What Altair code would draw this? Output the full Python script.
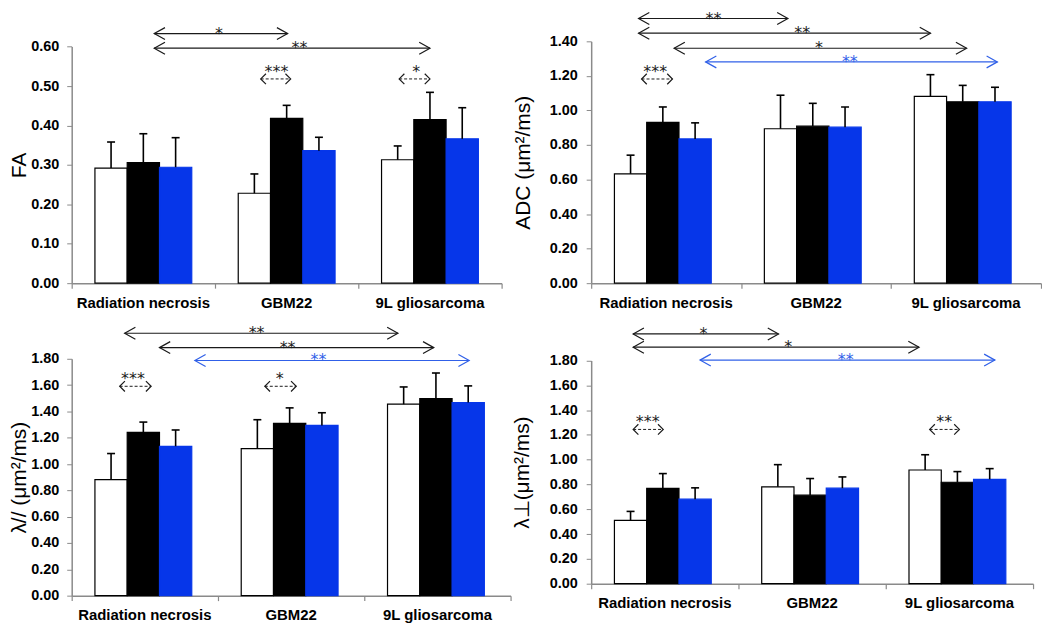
import altair as alt
import pandas as pd

GROUPS = ["Radiation necrosis", "GBM22", "9L gliosarcoma"]
SERIES = ["Series 1", "Series 2", "Series 3"]
BAR_FILLS = ["#ffffff", "#000000", "#0636e9"]
BAR_STROKES = ["#000000", "#000000", "#0636e9"]
GRAY = "#8a8a8a"
ARROW_BLACK = "#1a1a1a"
ARROW_BLUE = "#3060e8"

# values per series (rows) and group (columns)
FA_MEAN = [[0.292, 0.228, 0.313], [0.306, 0.418, 0.415], [0.294, 0.336, 0.366]]
FA_SD = [[0.066, 0.049, 0.035], [0.073, 0.033, 0.069], [0.075, 0.034, 0.079]]

ADC_MEAN = [[0.633, 0.894, 1.081], [0.931, 0.909, 1.050], [0.835, 0.903, 1.050]]
ADC_SD = [[0.108, 0.194, 0.126], [0.089, 0.132, 0.095], [0.093, 0.117, 0.084]]

LPAR_MEAN = [[0.881, 1.118, 1.455], [1.241, 1.309, 1.498], [1.135, 1.294, 1.468]]
LPAR_SD = [[0.199, 0.219, 0.131], [0.078, 0.118, 0.194], [0.124, 0.096, 0.126]]

LPERP_MEAN = [[0.511, 0.781, 0.917], [0.768, 0.714, 0.818], [0.682, 0.770, 0.842]]
LPERP_SD = [[0.072, 0.179, 0.123], [0.120, 0.134, 0.086], [0.091, 0.091, 0.086]]

# significance brackets: (from, to, level, label, label position, colour)
FA_SOLID = [(0.576, 1.507, 0.633, "*", 1.028, ARROW_BLACK),
            (0.576, 2.500, 0.596, "**", 1.589, ARROW_BLACK)]
FA_DASHED = [(1.319, 1.528, 0.518, "***", 1.429, ARROW_BLACK),
             (2.285, 2.500, 0.518, "*", 2.404, ARROW_BLACK)]

ADC_SOLID = [(0.316, 1.312, 1.532, "**", 0.816, ARROW_BLACK),
             (0.316, 2.263, 1.447, "**", 1.407, ARROW_BLACK),
             (0.553, 2.504, 1.360, "*", 1.520, ARROW_BLACK),
             (0.763, 2.709, 1.281, "**", 1.725, ARROW_BLUE)]
ADC_DASHED = [(0.336, 0.542, 1.182, "***", 0.427, ARROW_BLACK)]

LPAR_SOLID = [(0.362, 2.230, 1.994, "**", 1.264, ARROW_BLACK),
              (0.600, 2.475, 1.885, "**", 1.476, ARROW_BLACK),
              (0.842, 2.717, 1.787, "**", 1.687, ARROW_BLUE)]
LPAR_DASHED = [(0.328, 0.543, 1.591, "***", 0.419, ARROW_BLACK),
               (1.320, 1.535, 1.591, "*", 1.422, ARROW_BLACK)]

LPERP_SOLID = [(0.285, 1.272, 2.014, "*", 0.763, ARROW_BLACK),
               (0.285, 2.226, 1.907, "*", 1.338, ARROW_BLACK),
               (0.739, 2.741, 1.803, "**", 1.728, ARROW_BLUE)]
LPERP_DASHED = [(0.285, 0.489, 1.244, "***", 0.384, ARROW_BLACK),
                (2.298, 2.500, 1.244, "**", 2.397, ARROW_BLACK)]

HEAD_L = "M1.8,-1L0,0L1.8,1"
HEAD_R = "M-1.8,-1L0,0L-1.8,1"
DHEAD_L = "M1,-1L0,0L1,1"
DHEAD_R = "M-1,-1L0,0L-1,1"
COLS = ["x1", "x2", "y", "label", "sx", "color"]


def panel(means, sds, ymax, step, title, width, height, top_px,
          solid, dashed, title_pad, label_pad):
    rows = []
    for gi, g in enumerate(GROUPS):
        for si, s in enumerate(SERIES):
            m = means[si][gi]
            rows.append({"group": g, "series": s, "mean": m, "top": m + sds[si][gi]})
    df = pd.DataFrame(rows)

    yscale = alt.Scale(domain=[0, ymax], range=[height, top_px], nice=False, zero=True)
    n = int(round(ymax / step))
    yvals = [round(i * step, 2) for i in range(n + 1)]
    yaxis = alt.Axis(values=yvals, format=".2f", title=title,
                     titleFontSize=21, titleFontWeight="normal",
                     titleFont="Liberation Sans", titleColor="black",
                     titlePadding=title_pad,
                     labelFont="Liberation Sans", labelFontSize=14.5,
                     labelFontWeight="bold", labelColor="black",
                     labelPadding=label_pad, tickSize=5, tickColor=GRAY,
                     domainColor=GRAY, domainWidth=1.5, grid=False)

    xs = alt.X("group:N", sort=GROUPS,
               scale=alt.Scale(domain=GROUPS, paddingInner=0, paddingOuter=0),
               axis=alt.Axis(title=None, ticks=False, labelAngle=0, labelFontSize=15,
                             labelFontWeight="bold", labelFont="Liberation Sans",
                             labelColor="black", labelPadding=12,
                             domainColor=GRAY, domainWidth=1.5, grid=False))
    xo = alt.XOffset("series:N", sort=SERIES,
                     scale=alt.Scale(domain=SERIES, paddingInner=0, paddingOuter=0.72))
    base = alt.Chart(df)
    bars = base.mark_bar(strokeWidth=1.2).encode(
        x=xs, xOffset=xo,
        y=alt.Y("mean:Q", scale=yscale, axis=yaxis),
        fill=alt.Fill("series:N", scale=alt.Scale(domain=SERIES, range=BAR_FILLS), legend=None),
        stroke=alt.Stroke("series:N", scale=alt.Scale(domain=SERIES, range=BAR_STROKES), legend=None),
    )
    err = base.mark_rule(color="black", strokeWidth=1.6).encode(
        x=xs, xOffset=xo, y=alt.Y("mean:Q", scale=yscale, axis=yaxis), y2="top:Q")
    caps = base.mark_tick(color="black", thickness=1.6, size=8, opacity=1).encode(
        x=xs, xOffset=xo, y=alt.Y("top:Q", scale=yscale, axis=yaxis))

    sdf = pd.DataFrame(solid, columns=COLS)
    ddf = pd.DataFrame(dashed, columns=COLS)
    heads = []
    for r in solid:
        heads.append({"hx": r[0], "y": r[2], "shape": HEAD_L, "size": 144, "color": r[5]})
        heads.append({"hx": r[1], "y": r[2], "shape": HEAD_R, "size": 144, "color": r[5]})
    for r in dashed:
        heads.append({"hx": r[0], "y": r[2], "shape": DHEAD_L, "size": 110, "color": r[5]})
        heads.append({"hx": r[1], "y": r[2], "shape": DHEAD_R, "size": 110, "color": r[5]})
    hdf = pd.DataFrame(heads)

    qs = alt.Scale(domain=[0, 3], nice=False, zero=False)
    qaxis = alt.Axis(orient="bottom", values=[0, 1, 2, 3], labels=False, domain=False,
                     ticks=True, tickSize=5, tickColor=GRAY, tickWidth=1.2,
                     title=None, grid=False)
    ys = alt.Y("y:Q", scale=yscale, axis=yaxis)
    col = alt.Color("color:N", scale=None)

    sol = alt.Chart(sdf).mark_rule(strokeWidth=1.2).encode(
        x=alt.X("x1:Q", scale=qs, axis=qaxis), x2="x2:Q", y=ys, color=col)
    das = alt.Chart(ddf).mark_rule(strokeWidth=1, strokeDash=[3, 2]).encode(
        x=alt.X("x1:Q", scale=qs, axis=qaxis), x2="x2:Q", y=ys, color=col)
    hd = alt.Chart(hdf).mark_point(filled=False, strokeWidth=1.2, opacity=1).encode(
        x=alt.X("hx:Q", scale=qs, axis=qaxis), y=ys,
        shape=alt.Shape("shape:N", scale=None),
        size=alt.Size("size:Q", scale=None), color=col)
    st1 = alt.Chart(sdf).mark_text(font="DejaVu Sans", fontSize=16,
                                   baseline="alphabetic", dy=5).encode(
        x=alt.X("sx:Q", scale=qs, axis=qaxis), y=ys, text="label:N", color=col)
    st2 = alt.Chart(ddf).mark_text(font="DejaVu Sans", fontSize=16,
                                   baseline="alphabetic", dy=-2).encode(
        x=alt.X("sx:Q", scale=qs, axis=qaxis), y=ys, text="label:N", color=col)

    return alt.layer(alt.layer(bars, err, caps),
                     alt.layer(sol, das, hd, st1, st2)).resolve_scale(
        x="independent").properties(width=width, height=height)


fa = panel(FA_MEAN, FA_SD, 0.6, 0.1, "FA", 432, 243, 5.3,
           FA_SOLID, FA_DASHED, 1, 8)
adc = panel(ADC_MEAN, ADC_SD, 1.4, 0.2, "ADC (μm²/ms)", 452, 243, 0,
            ADC_SOLID, ADC_DASHED, 16, 9)
lpar = panel(LPAR_MEAN, LPAR_SD, 1.8, 0.2, "λ// (μm²/ms)", 441, 238, 0,
             LPAR_SOLID, LPAR_DASHED, 1, 8)
lperp = panel(LPERP_MEAN, LPERP_SD, 1.8, 0.2, "λ⊥(μm²/ms)", 444, 226, 1.7,
              LPERP_SOLID, LPERP_DASHED, 17, 9)

chart = alt.concat(
    fa, adc, lpar, lperp, columns=2,
    spacing={"row": 76, "column": 81},
    bounds="flush",
    align={"row": "all", "column": "none"},
).properties(padding=0).configure_view(stroke=None)

chart.save("out.html", embed_options={"renderer": "svg", "actions": False})
